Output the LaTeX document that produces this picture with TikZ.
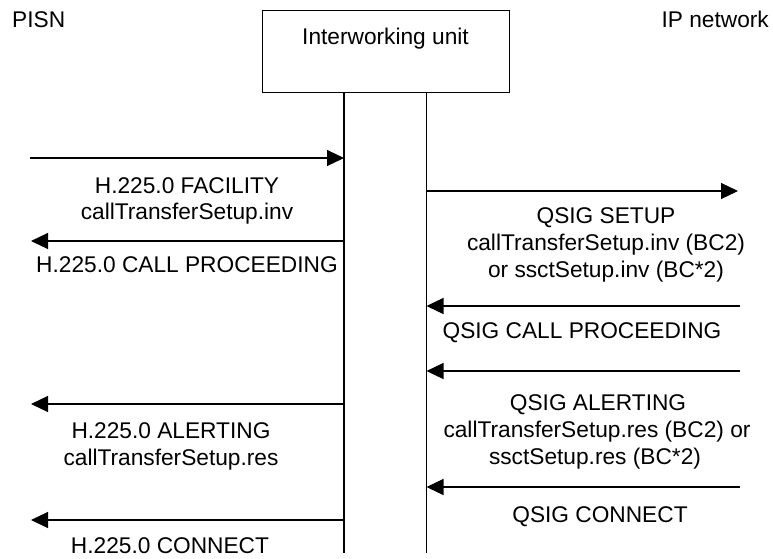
\documentclass[tikz,border=0pt]{standalone}
\usepackage{fontspec}
\setmainfont{Liberation Sans}
\usetikzlibrary{arrows.meta}
\begin{document}
\begin{tikzpicture}[x=1pt,y=-1pt,
  txt/.style={inner sep=0pt, anchor=base, font=\fontsize{22.7}{27}\selectfont},
  msg/.style={line width=1.2pt, -{Triangle[length=17pt,width=16pt]}},
  life/.style={line width=1.3pt},
  unitbox/.style={draw, line width=1.3pt, inner sep=0pt, minimum width=247.5pt, minimum height=82pt, anchor=north west}]
\useasboundingbox (0,0) rectangle (773,558);
% headers
\node[txt, anchor=base west] (pisn) at (12,27) {PISN};
\node[txt, anchor=base east] (ipn) at (769,27) {IP network};
\node[unitbox] (iwu) at (261.5,10) {};
\node[txt] (iwulab) at (385.5,44) {Interworking unit};
% lifelines
\coordinate (l1t) at (344,92);
\coordinate (l1b) at (344,553);
\coordinate (l2t) at (426.5,92);
\coordinate (l2b) at (426.5,553);
\draw[life] (l1t) -- (l1b);
\draw[life] (l2t) -- (l2b);
% left side messages
\coordinate (a1s) at (30,158);  \coordinate (a1e) at (344,158);
\coordinate (a2s) at (344,241); \coordinate (a2e) at (31,241);
\coordinate (a3s) at (344,404); \coordinate (a3e) at (31,404);
\coordinate (a4s) at (344,520); \coordinate (a4e) at (31,520);
\draw[msg] (a1s) -- (a1e);
\draw[msg] (a2s) -- (a2e);
\draw[msg] (a3s) -- (a3e);
\draw[msg] (a4s) -- (a4e);
\node[txt] (t1a) at (187,193) {H.225.0 FACILITY};
\node[txt] (t1b) at (187,219) {callTransferSetup.inv};
\node[txt] (t2) at (187,272) {H.225.0 CALL PROCEEDING};
\node[txt] (t3a) at (171,438) {H.225.0 ALERTING};
\node[txt] (t3b) at (171,465) {callTransferSetup.res};
\node[txt] (t4) at (170,553) {H.225.0 CONNECT};
% right side messages
\coordinate (b1s) at (426.5,191); \coordinate (b1e) at (738,191);
\coordinate (b2s) at (740,306);   \coordinate (b2e) at (426.5,306);
\coordinate (b3s) at (740,371);   \coordinate (b3e) at (426.5,371);
\coordinate (b4s) at (740,487);   \coordinate (b4e) at (426.5,487);
\draw[msg] (b1s) -- (b1e);
\draw[msg] (b2s) -- (b2e);
\draw[msg] (b3s) -- (b3e);
\draw[msg] (b4s) -- (b4e);
\node[txt] (r1a) at (606,223) {QSIG SETUP};
\node[txt] (r1b) at (606,250) {callTransferSetup.inv (BC2)};
\node[txt] (r1c) at (606,277) {or ssctSetup.inv (BC*2)};
\node[txt] (r2) at (582,338) {QSIG CALL PROCEEDING};
\node[txt] (r3a) at (598,410) {QSIG ALERTING};
\node[txt] (r3b) at (597,437) {callTransferSetup.res (BC2) or};
\node[txt] (r3c) at (595,464) {ssctSetup.res (BC*2)};
\node[txt] (r4) at (600,522) {QSIG CONNECT};
\end{tikzpicture}
\end{document}
